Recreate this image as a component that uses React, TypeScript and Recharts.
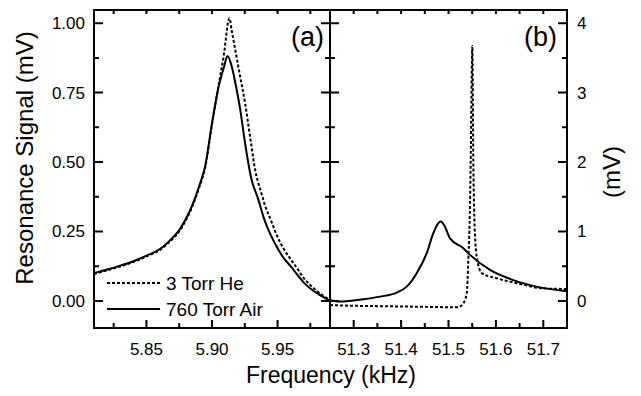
import { LineChart, Line, XAxis, YAxis } from 'recharts';

const FONT = '"Liberation Sans", Arial, Helvetica, sans-serif';

// panel (a): ~5.91 kHz resonance
const freqAirA = [5.81, 5.82, 5.83, 5.84, 5.85, 5.86, 5.87, 5.875, 5.88, 5.885, 5.89, 5.895, 5.9, 5.905, 5.909, 5.9118, 5.915, 5.918, 5.9215, 5.925, 5.93, 5.935, 5.94, 5.945, 5.95, 5.955, 5.96, 5.965, 5.97, 5.975, 5.98, 5.985, 5.99];
const sigAirA = [0.1, 0.113, 0.127, 0.143, 0.163, 0.186, 0.228, 0.255, 0.295, 0.345, 0.41, 0.49, 0.64, 0.77, 0.84, 0.882, 0.845, 0.78, 0.69, 0.575, 0.44, 0.37, 0.292, 0.235, 0.19, 0.152, 0.125, 0.095, 0.066, 0.045, 0.028, 0.014, 0.0];
const freqHeA = [5.81, 5.82, 5.83, 5.84, 5.85, 5.86, 5.87, 5.875, 5.88, 5.885, 5.89, 5.895, 5.9, 5.905, 5.909, 5.9133, 5.915, 5.9177, 5.921, 5.9253, 5.93, 5.9329, 5.935, 5.9377, 5.94, 5.945, 5.95, 5.955, 5.96, 5.965, 5.97, 5.975, 5.98, 5.985, 5.99];
const sigHeA = [0.097, 0.11, 0.124, 0.14, 0.16, 0.183, 0.224, 0.25, 0.29, 0.34, 0.405, 0.485, 0.635, 0.775, 0.885, 1.018, 0.975, 0.905, 0.82, 0.71, 0.56, 0.472, 0.43, 0.388, 0.35, 0.29, 0.23, 0.185, 0.15, 0.117, 0.082, 0.057, 0.036, 0.018, 0.004];

// panel (b): ~51.5 kHz resonance
const freqAirB = [51.25, 51.27, 51.29, 51.3203, 51.3555, 51.3907, 51.4118, 51.4329, 51.454, 51.468, 51.4786, 51.4835, 51.4926, 51.5032, 51.5313, 51.5454, 51.5876, 51.6367, 51.686, 51.75];
const sigAirB = [0.01, -0.01, 0.0, 0.024, 0.062, 0.12, 0.206, 0.4, 0.687, 0.975, 1.12, 1.143, 1.07, 0.9, 0.76, 0.663, 0.447, 0.3, 0.206, 0.14];
const freqHeB = [51.25, 51.3, 51.35, 51.4, 51.45, 51.5, 51.52, 51.5313, 51.5384, 51.5418, 51.5454, 51.5468, 51.5503, 51.5524, 51.5545, 51.5595, 51.5701, 51.6016, 51.6508, 51.7, 51.75];
const sigHeB = [-0.06, -0.07, -0.075, -0.08, -0.085, -0.09, -0.09, -0.033, 0.11, 0.59, 1.4, 2.0, 3.67, 2.0, 1.2, 0.64, 0.4, 0.327, 0.245, 0.18, 0.172];

// ticks
const ticksXA = [5.825, 5.85, 5.875, 5.9, 5.925, 5.95, 5.975];
const majorXA = [5.85, 5.9, 5.95];
const ticksYA = [0, 0.125, 0.25, 0.375, 0.5, 0.625, 0.75, 0.875, 1];
const majorYA = [0, 0.25, 0.5, 0.75, 1];
const ticksXB = [51.3, 51.35, 51.4, 51.45, 51.5, 51.55, 51.6, 51.65, 51.7];
const majorXB = [51.3, 51.4, 51.5, 51.6, 51.7];
const ticksYB = [0, 0.5, 1, 1.5, 2, 2.5, 3, 3.5, 4];
const majorYB = [0, 1, 2, 3, 4];

const domXA: [number, number] = [5.81, 5.99];
const domYA: [number, number] = [-0.0975, 1.0475];
const domXB: [number, number] = [51.25, 51.75];
const domYB: [number, number] = [-0.39, 4.19];

// plot boxes on the page (match the chart margins below)
const TOP = 10;
const BOTTOM = 328;
const LEFT_A = 94;
const MID = 330;
const RIGHT_B = 567;

// one table per panel, both series keyed on frequency
const mergeSeries = (fAir: number[], vAir: number[], fHe: number[], vHe: number[]) => {
  const rows = new Map<number, any>();
  fAir.forEach((f, i) => rows.set(f, { ...(rows.get(f) || { f }), air: vAir[i] }));
  fHe.forEach((f, i) => rows.set(f, { ...(rows.get(f) || { f }), he: vHe[i] }));
  return [...rows.values()].sort((a, b) => a.f - b.f);
};
const dataA = mergeSeries(freqAirA, sigAirA, freqHeA, sigHeA);
const dataB = mergeSeries(freqAirB, sigAirB, freqHeB, sigHeB);

const isMajor = (v: number, majors: number[]) => majors.some((m) => Math.abs(m - v) < 1e-6);
const lin = (v: number, d: [number, number], a: number, b: number) => a + ((v - d[0]) / (d[1] - d[0])) * (b - a);

// axis labels come from recharts' own tick positions
const xLabel = (majors: number[], fmt: (v: number) => string) => (p: any) => {
  const v = Number(p.payload.value);
  if (!isMajor(v, majors)) return <g />;
  return <text x={Number(p.x)} y={Number(p.y) + 27} textAnchor="middle" fontSize={17} fontFamily={FONT} fill="#000">{fmt(v)}</text>;
};
const yLabel = (majors: number[], side: 'left' | 'right', fmt: (v: number) => string) => (p: any) => {
  const v = Number(p.payload.value);
  if (!isMajor(v, majors)) return <g />;
  return side === 'left'
    ? <text x={Number(p.x) - 9} y={Number(p.y) + 6} textAnchor="end" fontSize={17} fontFamily={FONT} fill="#000">{fmt(v)}</text>
    : <text x={Number(p.x) + 10} y={Number(p.y) + 6} textAnchor="start" fontSize={17} fontFamily={FONT} fill="#000">{fmt(v)}</text>;
};

// inward tick marks on all four sides of one panel
const tickPath = (domX: [number, number], domY: [number, number], x0: number, x1: number,
  tx: number[], mx: number[], ty: number[], my: number[]) => {
  let d = '';
  tx.forEach((v) => {
    const x = lin(v, domX, x0, x1);
    const len = isMajor(v, mx) ? 8 : 5;
    d += `M${x},${BOTTOM}L${x},${BOTTOM - len}M${x},${TOP}L${x},${TOP + 4}`;
  });
  ty.forEach((v) => {
    const y = lin(v, domY, BOTTOM, TOP);
    const len = isMajor(v, my) ? 9 : 5;
    d += `M${x0},${y}L${x0 + len},${y}M${x1},${y}L${x1 - len},${y}`;
  });
  return d;
};

export default function App() {
  return (
    <div style={{ position: 'absolute', left: 0, top: 0, width: 641, height: 396, background: '#fff', overflow: 'hidden' }}>
      {/* panel (a) */}
      <div style={{ position: 'absolute', left: 0, top: 0 }}>
        <LineChart width={340} height={396} data={dataA} margin={{ top: 10, right: 10, bottom: 67, left: 93 }}>
          <XAxis dataKey="f" type="number" domain={domXA} ticks={ticksXA} interval={0} height={1} tickSize={0} tickMargin={0}
            axisLine={false} tickLine={false} tick={xLabel(majorXA, (v) => v.toFixed(2))} />
          <YAxis type="number" domain={domYA} ticks={ticksYA} interval={0} width={1} tickSize={0} tickMargin={0}
            axisLine={false} tickLine={false} tick={yLabel(majorYA, 'left', (v) => v.toFixed(2))} />
          <Line dataKey="he" name="3 Torr He" type="monotone" connectNulls stroke="#000" strokeWidth={2}
            strokeDasharray="3 2" dot={false} activeDot={false} isAnimationActive={false} />
          <Line dataKey="air" name="760 Torr Air" type="monotone" connectNulls stroke="#000" strokeWidth={2}
            dot={false} activeDot={false} isAnimationActive={false} />
        </LineChart>
      </div>

      {/* panel (b) */}
      <div style={{ position: 'absolute', left: 320, top: 0 }}>
        <LineChart width={321} height={396} data={dataB} margin={{ top: 10, right: 73, bottom: 67, left: 10 }}>
          <XAxis dataKey="f" type="number" domain={domXB} ticks={ticksXB} interval={0} height={1} tickSize={0} tickMargin={0}
            axisLine={false} tickLine={false} tick={xLabel(majorXB, (v) => v.toFixed(1))} />
          <YAxis orientation="right" type="number" domain={domYB} ticks={ticksYB} interval={0} width={1} tickSize={0} tickMargin={0}
            axisLine={false} tickLine={false} tick={yLabel(majorYB, 'right', (v) => String(v))} />
          <Line dataKey="he" name="3 Torr He" type="monotone" connectNulls stroke="#000" strokeWidth={2}
            strokeDasharray="3 2" dot={false} activeDot={false} isAnimationActive={false} />
          <Line dataKey="air" name="760 Torr Air" type="monotone" connectNulls stroke="#000" strokeWidth={2}
            dot={false} activeDot={false} isAnimationActive={false} />
        </LineChart>
      </div>

      {/* frame, ticks, titles, panel labels and legend */}
      <svg width={641} height={396} style={{ position: 'absolute', left: 0, top: 0, pointerEvents: 'none' }}>
        <rect x={LEFT_A} y={TOP} width={RIGHT_B - LEFT_A} height={BOTTOM - TOP} fill="none" stroke="#000" strokeWidth={2} />
        <line x1={MID} x2={MID} y1={TOP} y2={BOTTOM} stroke="#000" strokeWidth={2} />
        <path d={tickPath(domXA, domYA, LEFT_A, MID, ticksXA, majorXA, ticksYA, majorYA)} stroke="#000" strokeWidth={2} fill="none" />
        <path d={tickPath(domXB, domYB, MID, RIGHT_B, ticksXB, majorXB, ticksYB, majorYB)} stroke="#000" strokeWidth={2} fill="none" />
        <text x={33} y={158} transform="rotate(-90 33 158)" textAnchor="middle" fontSize={24} fontFamily={FONT} fill="#000">
          Resonance Signal (mV)
        </text>
        <text x={620} y={172} transform="rotate(-90 620 172)" textAnchor="middle" fontSize={24} fontFamily={FONT} fill="#000">
          (mV)
        </text>
        <text x={331} y={383} textAnchor="middle" fontSize={23} fontFamily={FONT} fill="#000">Frequency (kHz)</text>
        <text x={324} y={46} textAnchor="end" fontSize={27} fontFamily={FONT} fill="#000">(a)</text>
        <text x={557} y={46} textAnchor="end" fontSize={27} fontFamily={FONT} fill="#000">(b)</text>
        <line x1={107} x2={160} y1={283} y2={283} stroke="#000" strokeWidth={2} strokeDasharray="3 2" />
        <text x={166} y={290} fontSize={19} fontFamily={FONT} fill="#000">3 Torr He</text>
        <line x1={107} x2={160} y1={309} y2={309} stroke="#000" strokeWidth={2} />
        <text x={166} y={316} fontSize={19} fontFamily={FONT} fill="#000">760 Torr Air</text>
      </svg>
    </div>
  );
}
